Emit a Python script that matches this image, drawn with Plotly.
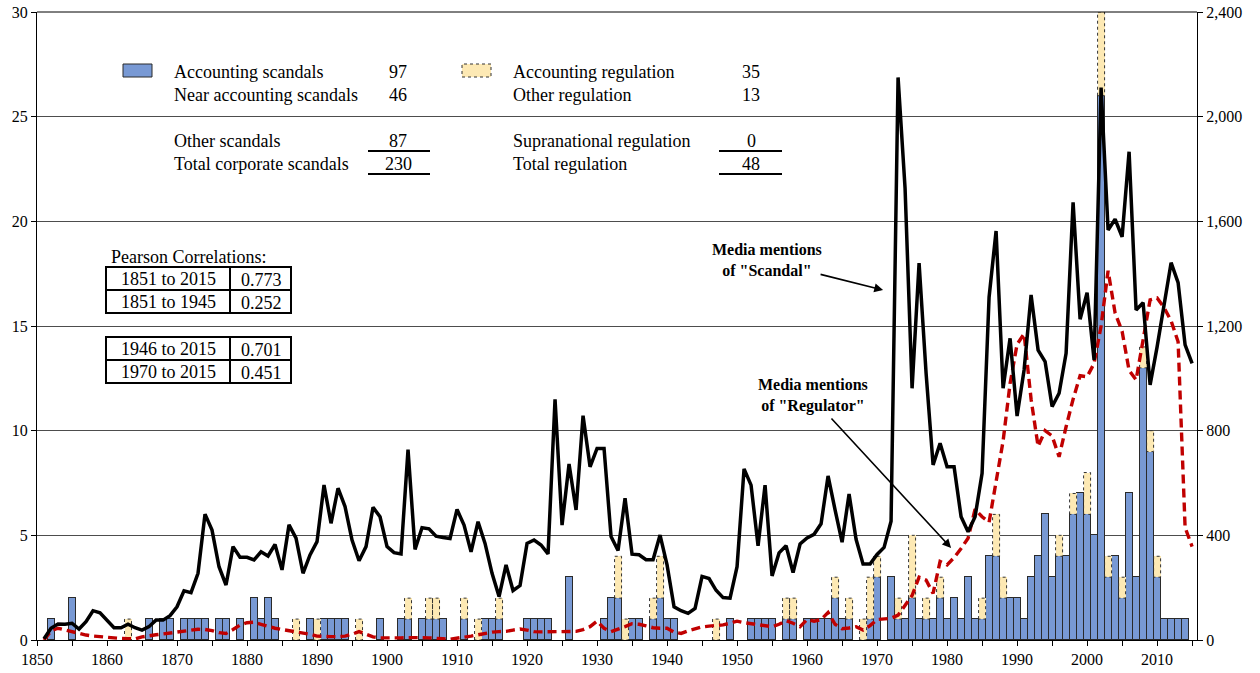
import plotly.graph_objects as go

# ---- data -------------------------------------------------------------
years = list(range(1851, 2016))

# Media mentions of "Scandal" (right axis), 1851-2015
scandal_mentions = [
    5, 45, 61, 60, 64, 42, 70, 112, 104, 76,            # 1851-1860
    47, 47, 60, 47, 38, 51, 76, 76, 93, 127,            # 1861-1870
    188, 181, 255, 481, 420, 280, 210, 357, 316, 316,   # 1871-1880
    306, 337, 321, 365, 268, 440, 389, 255, 325, 376,   # 1881-1890
    592, 446, 580, 510, 382, 303, 357, 507, 471, 357,   # 1891-1900
    334, 329, 728, 346, 429, 425, 397, 392, 388, 499,   # 1901-1910
    439, 337, 452, 369, 255, 166, 287, 189, 208, 369,   # 1911-1920
    382, 363, 329, 920, 439, 673, 497, 857, 662, 732,   # 1921-1930
    732, 395, 342, 542, 328, 326, 307, 307, 401, 287,   # 1931-1940
    127, 112, 102, 121, 243, 235, 190, 162, 160, 280,   # 1941-1950
    654, 592, 360, 592, 245, 333, 360, 258, 367, 390,   # 1951-1960
    404, 444, 627, 497, 374, 558, 385, 290, 290, 327,   # 1961-1970
    354, 454, 2150, 1726, 962, 1440, 1020, 669, 752, 662,      # 1971-1980
    662, 471, 414, 471, 637, 1310, 1563, 962, 1153, 856,       # 1981-1990
    1032, 1319, 1108, 1064, 892, 943, 1096, 1673, 1226, 1327,  # 1991-2000
    1070, 2111, 1567, 1608, 1541, 1866, 1261, 1289, 975, 1120, # 2001-2010
    1290, 1442, 1366, 1128, 1057,                              # 2011-2015
]

# Media mentions of "Regulator" (right axis), 1851-2015
regulator_mentions = [
    0, 35, 45, 38, 30, 25, 19, 15, 12, 10,
    8, 6, 5, 4, 12, 17, 20, 23, 27, 30,
    34, 38, 41, 40, 36, 28, 25, 40, 57, 66,
    68, 60, 52, 45, 40, 36, 32, 27, 22, 15,
    13, 13, 13, 15, 22, 32, 22, 12, 8, 7,
    8, 8, 9, 10, 9, 8, 8, 5, 3, 6,
    10, 15, 20, 26, 30, 32, 33, 38, 42, 38,
    32, 31, 31, 31, 31, 32, 33, 40, 51, 72,
    45, 32, 40, 51, 62, 60, 54, 47, 45, 45,
    30, 25, 35, 42, 50, 53, 55, 58, 64, 72,
    66, 62, 61, 56, 51, 60, 74, 64, 51, 78,
    72, 78, 105, 60, 43, 46, 51, 38, 55, 78,
    82, 83, 95, 130, 170, 240, 229, 178, 300, 287,
    315, 350, 389, 500, 471, 450, 600, 760, 980, 1130,
    1170, 920, 740, 800, 780, 700, 815, 920, 1010, 1006,
    1057, 1200, 1411, 1250, 1180, 1030, 994, 1155, 1300, 1307,
    1270, 1220, 1140, 430, 357,
]

# Corporate scandals per year (left axis)
scandals = {
    1852: 1, 1855: 2, 1866: 1, 1868: 1, 1869: 1, 1871: 1, 1872: 1, 1873: 1,
    1874: 1, 1876: 1, 1877: 1, 1879: 1, 1881: 2, 1882: 1, 1883: 2, 1884: 1,
    1889: 1, 1891: 1, 1892: 1, 1893: 1, 1894: 1, 1899: 1, 1902: 1, 1903: 1,
    1905: 1, 1906: 1, 1907: 1, 1908: 1, 1911: 1, 1914: 1, 1915: 1, 1916: 1,
    1920: 1, 1921: 1, 1922: 1, 1923: 1, 1926: 3, 1931: 1, 1932: 2, 1933: 2,
    1935: 1, 1936: 1, 1938: 1, 1939: 2, 1940: 1, 1941: 1, 1949: 1, 1952: 1,
    1953: 1, 1954: 1, 1955: 1, 1957: 1, 1958: 1, 1960: 1, 1961: 1, 1962: 1,
    1963: 1, 1964: 2, 1965: 1, 1966: 1, 1969: 1, 1970: 3, 1972: 3, 1973: 1,
    1974: 1, 1975: 2, 1976: 1, 1977: 1, 1978: 1, 1979: 2, 1980: 1, 1981: 2,
    1982: 1, 1983: 3, 1984: 1, 1985: 1, 1986: 4, 1987: 4, 1988: 2, 1989: 2,
    1990: 2, 1991: 1, 1992: 3, 1993: 4, 1994: 6, 1995: 3, 1996: 4, 1997: 4,
    1998: 6, 1999: 7, 2000: 6, 2001: 5, 2002: 26, 2003: 3, 2004: 4, 2005: 2,
    2006: 7, 2007: 3, 2008: 13, 2009: 9, 2010: 3, 2011: 1, 2012: 1, 2013: 1,
    2014: 1,
}

# Regulation events per year, stacked on top of scandals (left axis)
regulation = {
    1863: 1, 1887: 1, 1890: 1, 1896: 1, 1903: 1, 1906: 1, 1907: 1, 1911: 1,
    1913: 1, 1916: 1, 1933: 2, 1934: 1, 1938: 1, 1939: 2, 1947: 1, 1957: 1,
    1958: 1, 1964: 1, 1966: 1, 1968: 1, 1969: 2, 1970: 1, 1973: 1, 1975: 3,
    1977: 1, 1979: 1, 1985: 1, 1987: 2, 1988: 1, 1996: 1, 1998: 1, 2000: 2,
    2002: 4, 2003: 1, 2005: 1, 2008: 1, 2009: 1, 2010: 1,
}

legend_left = [("Accounting scandals", "97"), ("Near accounting scandals", "46"),
               ("Other scandals", "87"), ("Total corporate scandals", "230")]
legend_right = [("Accounting regulation", "35"), ("Other regulation", "13"),
                ("Supranational regulation", "0"), ("Total regulation", "48")]
correlations = [("1851 to 2015", "0.773"), ("1851 to 1945", "0.252"),
                ("1946 to 2015", "0.701"), ("1970 to 2015", "0.451")]

# ---- style ------------------------------------------------------------
FONT = "Liberation Serif"
BLUE = "#7899D4"
CREAM = "#FDE9B4"
RED = "#C00000"
W, H = 1260, 673
L, R, T, B = 37, 63, 12, 33


def px(x):
    return (x - L) / (W - L - R)


def py(y):
    return (H - B - y) / (H - T - B)


fig = go.Figure()

s_years = list(scandals.keys())
s_vals = list(scandals.values())
fig.add_trace(go.Bar(
    x=s_years, y=s_vals, width=1.0, marker_color=BLUE,
    marker_line=dict(color="#2a2a2a", width=1), yaxis="y", showlegend=False,
))

r_years = list(regulation.keys())
r_vals = list(regulation.values())
fig.add_trace(go.Bar(
    x=r_years, y=r_vals, width=1.0, marker_color=CREAM,
    marker_line=dict(width=0), yaxis="y", showlegend=False,
))

# dotted outlines around the regulation segments
ox, oy = [], []
for yr, h in regulation.items():
    b0 = scandals.get(yr, 0)
    ox += [yr - 0.5, yr - 0.5, yr + 0.5, yr + 0.5, yr - 0.5, None]
    oy += [b0, b0 + h, b0 + h, b0, b0, None]
fig.add_trace(go.Scatter(
    x=ox, y=oy, mode="lines", yaxis="y", hoverinfo="skip",
    line=dict(color="#333333", width=1, dash="dot"), showlegend=False,
))

fig.add_trace(go.Scatter(
    x=years, y=regulator_mentions, mode="lines", yaxis="y2",
    line=dict(color=RED, width=3.4, dash="9px,5px"), showlegend=False,
))
fig.add_trace(go.Scatter(
    x=years, y=scandal_mentions, mode="lines", yaxis="y2",
    line=dict(color="black", width=3.5), showlegend=False,
))

tick_years = list(range(1850, 2016, 5))
tick_text = [str(v) if v % 10 == 0 else "" for v in tick_years]

fig.update_layout(
    width=W, height=H, autosize=False,
    margin=dict(l=L, r=R, t=T, b=B, autoexpand=False),
    paper_bgcolor="white", plot_bgcolor="white",
    barmode="stack", bargap=0,
    font=dict(family=FONT, size=16, color="black"),
    xaxis=dict(
        range=[1850, 2015.7], tickvals=tick_years, ticktext=tick_text,
        ticks="outside", ticklen=5, tickcolor="black", showgrid=False,
        showline=True, linecolor="black", linewidth=1, zeroline=False,
        tickfont=dict(family=FONT, size=16), automargin=False,
    ),
    yaxis=dict(
        range=[0, 30], dtick=5, ticks="outside", ticklen=5, tickcolor="black",
        showgrid=True, gridcolor="#4d4d4d", gridwidth=1,
        showline=True, linecolor="black", linewidth=1, zeroline=False,
        tickfont=dict(family=FONT, size=16), automargin=False,
    ),
    yaxis2=dict(
        range=[0, 2400], dtick=400, tickformat=",", overlaying="y", side="right",
        ticks="outside", ticklen=5, tickcolor="black", showgrid=False,
        showline=True, linecolor="black", linewidth=1, zeroline=False,
        tickfont=dict(family=FONT, size=16), automargin=False,
    ),
)

shapes = []
annotations = []

# top border of the plot area
shapes.append(dict(type="line", xref="paper", yref="paper", x0=0, x1=1, y0=1, y1=1,
                   line=dict(color="black", width=1)))

# legend block
rows_y = [72, 95, 141, 164]
for (lab, num), yy in zip(legend_left, rows_y):
    annotations.append(dict(xref="paper", yref="paper", x=px(172), y=py(yy), text=lab,
                            showarrow=False, xanchor="left", yanchor="middle",
                            font=dict(family=FONT, size=18)))
    annotations.append(dict(xref="paper", yref="paper", x=px(398), y=py(yy), text=num,
                            showarrow=False, xanchor="center", yanchor="middle",
                            font=dict(family=FONT, size=18)))
for (lab, num), yy in zip(legend_right, rows_y):
    annotations.append(dict(xref="paper", yref="paper", x=px(511), y=py(yy), text=lab,
                            showarrow=False, xanchor="left", yanchor="middle",
                            font=dict(family=FONT, size=18)))
    annotations.append(dict(xref="paper", yref="paper", x=px(751), y=py(yy), text=num,
                            showarrow=False, xanchor="center", yanchor="middle",
                            font=dict(family=FONT, size=18)))
for x0, x1 in [(368, 430), (719, 782)]:
    for yy in (151, 174):
        shapes.append(dict(type="line", xref="paper", yref="paper",
                           x0=px(x0), x1=px(x1), y0=py(yy), y1=py(yy),
                           line=dict(color="black", width=2)))
shapes.append(dict(type="rect", xref="paper", yref="paper",
                   x0=px(123), x1=px(152), y0=py(77), y1=py(64),
                   fillcolor=BLUE, line=dict(color="#2a2a2a", width=1)))
shapes.append(dict(type="rect", xref="paper", yref="paper",
                   x0=px(462), x1=px(491), y0=py(77), y1=py(64),
                   fillcolor=CREAM, line=dict(color="#333333", width=1, dash="dot")))

# correlation tables
annotations.append(dict(xref="paper", yref="paper", x=px(109), y=py(257),
                        text="Pearson Correlations:", showarrow=False,
                        xanchor="left", yanchor="middle", font=dict(family=FONT, size=18)))
for top in (267, 337):
    bot = top + 46
    shapes.append(dict(type="rect", xref="paper", yref="paper",
                       x0=px(106), x1=px(291), y0=py(bot), y1=py(top),
                       line=dict(color="black", width=2)))
    shapes.append(dict(type="line", xref="paper", yref="paper",
                       x0=px(230), x1=px(230), y0=py(bot), y1=py(top),
                       line=dict(color="black", width=2)))
    shapes.append(dict(type="line", xref="paper", yref="paper",
                       x0=px(106), x1=px(291), y0=py(top + 23), y1=py(top + 23),
                       line=dict(color="black", width=2)))
cells_y = [279, 302, 349, 372]
for (period, r), yy in zip(correlations, cells_y):
    annotations.append(dict(xref="paper", yref="paper", x=px(168), y=py(yy), text=period,
                            showarrow=False, xanchor="center", yanchor="middle",
                            font=dict(family=FONT, size=18)))
    annotations.append(dict(xref="paper", yref="paper", x=px(261), y=py(yy + 1), text=r,
                            showarrow=False, xanchor="center", yanchor="middle",
                            font=dict(family=FONT, size=18)))


# callouts for the two media series
def yr(xp):
    return 1850 + (xp - L) / 7.0


def v2(yp):
    return (H - B - yp) * 2400 / (H - T - B)


annotations.append(dict(xref="paper", yref="paper", x=px(767), y=py(260),
                        text="<b>Media mentions</b><br><b>of \"Scandal\"</b>",
                        showarrow=False, xanchor="center", yanchor="middle",
                        font=dict(family=FONT, size=16)))
annotations.append(dict(xref="paper", yref="paper", x=px(813), y=py(395),
                        text="<b>Media mentions</b><br><b>of \"Regulator\"</b>",
                        showarrow=False, xanchor="center", yanchor="middle",
                        font=dict(family=FONT, size=16)))
annotations.append(dict(xref="x", yref="y2", x=yr(883), y=v2(290),
                        axref="x", ayref="y2", ax=yr(819), ay=v2(274), text="",
                        showarrow=True, arrowhead=2, arrowsize=1.1, arrowwidth=1.6,
                        arrowcolor="black"))
annotations.append(dict(xref="x", yref="y2", x=yr(951), y=v2(548),
                        axref="x", ayref="y2", ax=yr(830), ay=v2(417), text="",
                        showarrow=True, arrowhead=2, arrowsize=1.1, arrowwidth=1.6,
                        arrowcolor="black"))

fig.update_layout(shapes=shapes, annotations=annotations)
fig.write_html("out.html")
